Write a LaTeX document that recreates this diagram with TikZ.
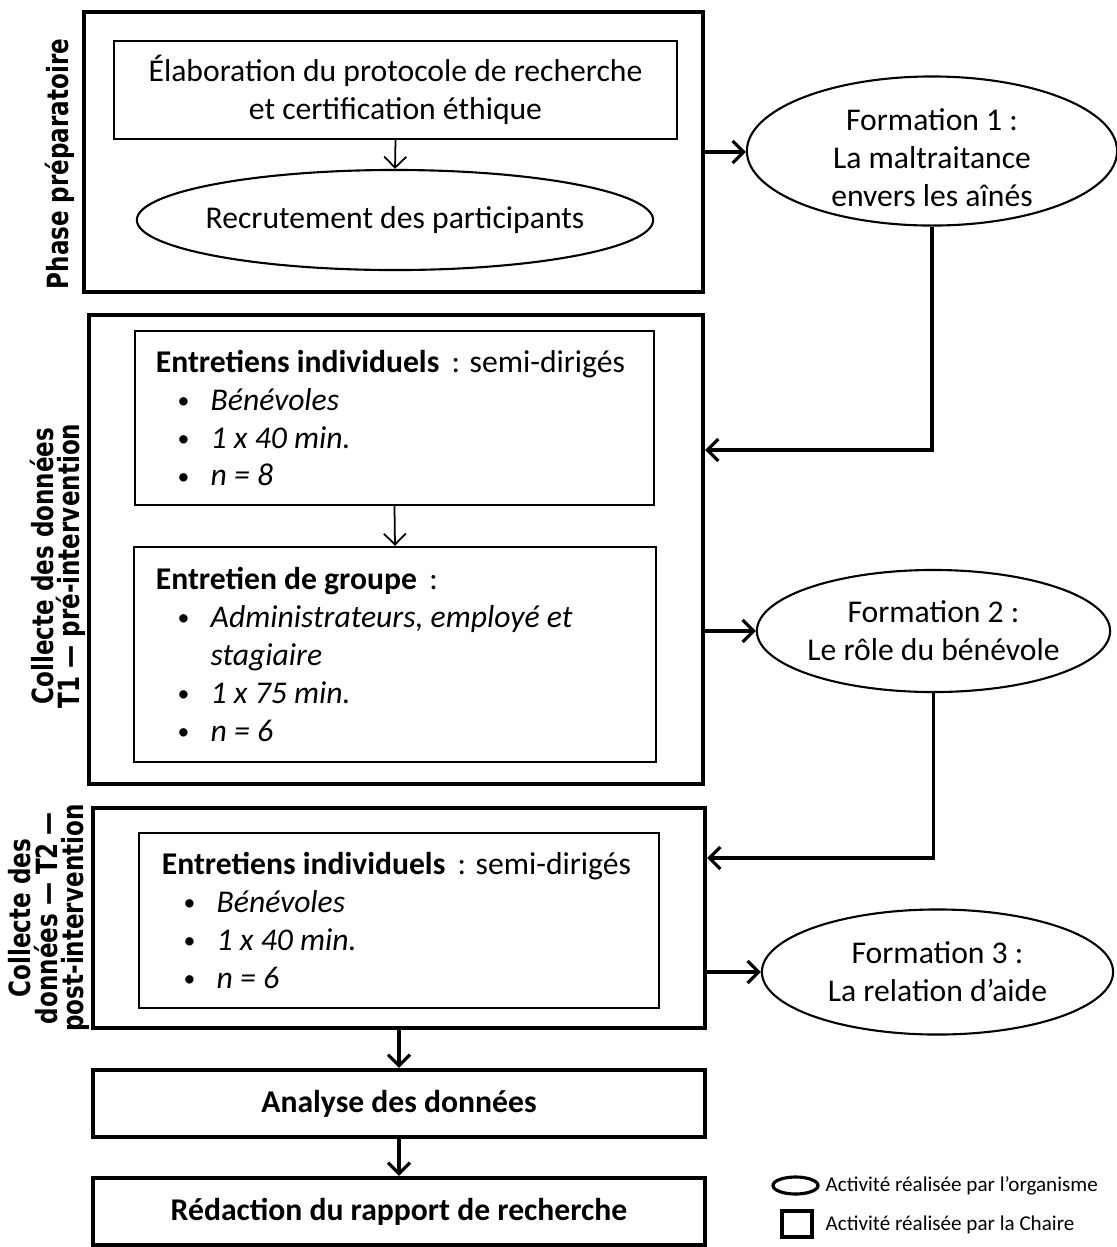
\documentclass[tikz,border=0pt]{standalone}
\usepackage{fontspec}
\setmainfont{Carlito}
\newfontfamily\sidefont{DejaVu Sans}[FakeStretch=0.79]
\usetikzlibrary{shapes.geometric,arrows.meta}

\newcommand{\puce}[1]{\makebox[15.6pt][l]{\hspace{6.2pt}\raisebox{0.5pt}{\scalebox{0.75}{\textbullet}}}\textit{#1}}

\begin{document}
\begin{tikzpicture}[x=0.01cm, y=-0.01cm, >={Straight Barb[length=1.1mm, width=2.2mm]},
    font=\fontsize{9}{10.8}\selectfont]
    \useasboundingbox (0,0) rectangle (1117,1247);
    \tikzset{
        outer/.style={draw=black, line width=1.15pt, inner sep=0pt},
        inner/.style={draw=black, line width=0.65pt},
        oval/.style={draw=black, ellipse, line width=0.6pt, inner xsep=-0.3cm, inner ysep=-0.1cm, align=flush center},
        side/.style={rotate=90, align=flush center, font=\sidefont\bfseries\fontsize{8.3}{7.5}\selectfont},
    }
    \begin{scope}
        % phases
        \node[outer, minimum width=6.19cm, minimum height=2.80cm] (prep) at (393.5,152) {};
        \node[outer, minimum width=6.14cm, minimum height=4.69cm] (pre) at (396,549.5) {};
        \node[outer, minimum width=6.12cm, minimum height=2.20cm] (post) at (399,918) {};
        \node[side] (lprep) at (60,164) {Phase préparatoire};
        \node[side] (lpre) at (58,566) {Collecte des données\\T1 — pré-intervention};
        \node[side] (lpost) at (49,918) {Collecte des\\données — T2 —\\post-intervention};
        % activites
        \node[inner, minimum width=5.63cm, minimum height=0.98cm, align=flush center] (elab) at (395.5,90)
            {Élaboration du protocole de recherche\\et certification éthique};
        \node[oval, minimum width=5.16cm, minimum height=1.00cm] (recr) at (395,220) {Recrutement des participants};
        \node[inner, minimum height=1.74cm, text width=4.77cm, inner xsep=0.21cm, align=flush left] (indA) at (394.5,418)
            {\textbf{Entretiens individuels}\hspace{3.5pt}: semi-dirigés\\ \puce{Bénévoles}\\ \puce{1 x 40 min.}\\ \puce{n = 8}};
        \node[inner, minimum height=2.15cm, text width=4.78cm, inner xsep=0.22cm, align=flush left] (grpB) at (395,654.5)
            {\textbf{Entretien de groupe}\hspace{3.5pt}:\\ \puce{Administrateurs, employé et}\\ \hspace*{15.6pt}\textit{stagiaire}\\ \puce{1 x 75 min.}\\ \puce{n = 6}};
        \node[inner, minimum height=1.75cm, text width=4.74cm, inner xsep=0.23cm, align=flush left] (indC) at (399,920.5)
            {\textbf{Entretiens individuels}\hspace{3.5pt}: semi-dirigés\\ \puce{Bénévoles}\\ \puce{1 x 40 min.}\\ \puce{n = 6}};
        \node[outer, minimum width=6.12cm, minimum height=0.67cm, font=\fontsize{9}{10.8}\selectfont\bfseries] (ana) at (399,1103.5) {Analyse des données};
        \node[outer, minimum width=6.12cm, minimum height=0.67cm, font=\fontsize{9}{10.8}\selectfont\bfseries] (redac) at (399,1211.5) {Rédaction du rapport de recherche};
        % formations
        \node[oval, minimum width=3.70cm, minimum height=1.49cm] (f1) at (932,151) {\rule{0pt}{10pt}Formation 1 :\\La maltraitance\\envers les aînés};
        \node[oval, minimum width=3.53cm, minimum height=1.22cm] (f2) at (933.5,631) {Formation 2 :\\Le rôle du bénévole};
        \node[oval, minimum width=3.51cm, minimum height=1.25cm] (f3) at (937.5,972) {Formation 3 :\\La relation d’aide};
        % legende
        \node[oval, line width=0.9pt, minimum width=0.45cm, minimum height=0.17cm] (legO) at (795.5,1185.5) {};
        \node[inner, line width=0.9pt, minimum width=0.30cm, minimum height=0.26cm, inner sep=0pt] (legR) at (797,1224) {};
        \node[anchor=west, inner sep=0pt, font=\fontsize{6}{7}\selectfont] (txtO) at (825,1185.5) {Activité réalisée par l’organisme};
        \node[anchor=west, inner sep=0pt, font=\fontsize{6}{7}\selectfont] (txtR) at (825,1225) {Activité réalisée par la Chaire};
        \coordinate (j1) at (935,450);
        \coordinate (j2) at (935,858);
    \end{scope}
    \begin{scope}[line width=0.5pt]
        \draw[->] (elab.south) -- (recr.north);
        \draw[->] (indA.south) -- (grpB.north);
    \end{scope}
    \begin{scope}[line width=0.9pt]
        \draw[->] (prep.east) -- (prep.east -| f1.west);
        \draw[->] (f1.south) |- (pre.east |- j1);
        \draw[->] (f2.west -| pre.east) -- (f2.west);
        \draw[->] (f2.south) |- (post.east |- j2);
        \draw[->] (f3.west -| post.east) -- (f3.west);
        \draw[->] (post.south) -- (ana.north);
        \draw[->] (ana.south) -- (redac.north);
    \end{scope}
\end{tikzpicture}
\end{document}
